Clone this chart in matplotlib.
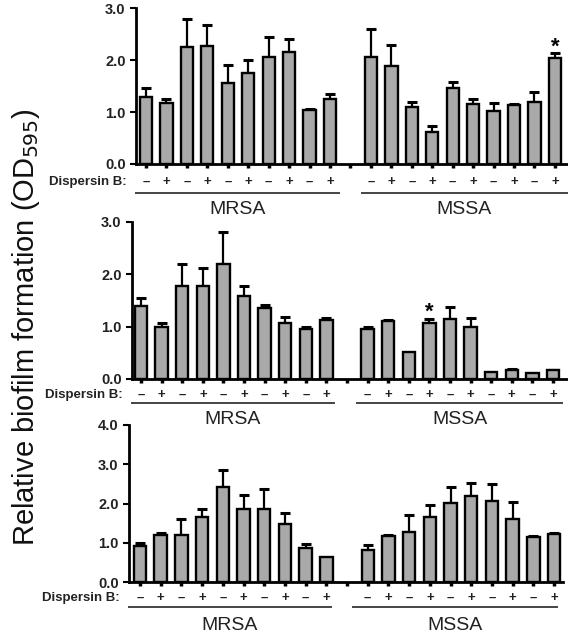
import numpy as np
import matplotlib
matplotlib.use("Agg")
import matplotlib.pyplot as plt
from matplotlib.lines import Line2D
from matplotlib.transforms import ScaledTranslation

plt.rcParams['font.family'] = ['Liberation Sans', 'DejaVu Sans']

# ---- data ----
groups = ["MRSA", "MSSA"]
treatment = ["–", "+", "–", "+", "–", "+", "–", "+", "–", "+"]

p1_mrsa = [1.29, 1.17, 2.25, 2.27, 1.56, 1.75, 2.05, 2.15, 1.04, 1.25]
p1_mrsa_err = [0.17, 0.08, 0.54, 0.40, 0.34, 0.25, 0.39, 0.25, 0.02, 0.10]
p1_mssa = [2.05, 1.88, 1.10, 0.62, 1.46, 1.15, 1.02, 1.13, 1.20, 2.03]
p1_mssa_err = [0.55, 0.40, 0.10, 0.11, 0.12, 0.10, 0.15, 0.02, 0.18, 0.10]
p1_stars = [("MSSA", 9)]

p2_mrsa = [1.40, 0.99, 1.78, 1.78, 2.20, 1.59, 1.35, 1.07, 0.96, 1.13]
p2_mrsa_err = [0.15, 0.08, 0.42, 0.34, 0.60, 0.19, 0.07, 0.12, 0.03, 0.04]
p2_mssa = [0.96, 1.11, 0.52, 1.07, 1.15, 1.00, 0.13, 0.17, 0.11, 0.17]
p2_mssa_err = [0.04, 0.02, 0.0, 0.08, 0.23, 0.17, 0.0, 0.03, 0.0, 0.01]
p2_stars = [("MSSA", 3)]

p3_mrsa = [0.92, 1.20, 1.20, 1.65, 2.42, 1.86, 1.85, 1.48, 0.87, 0.64]
p3_mrsa_err = [0.08, 0.04, 0.40, 0.21, 0.43, 0.36, 0.51, 0.28, 0.10, 0.0]
p3_mssa = [0.82, 1.17, 1.28, 1.66, 2.02, 2.20, 2.06, 1.60, 1.14, 1.23]
p3_mssa_err = [0.13, 0.03, 0.42, 0.30, 0.40, 0.32, 0.44, 0.44, 0.02, 0.03]
p3_stars = []

W, H = 568, 634
fig = plt.figure(figsize=(W / 100, H / 100), dpi=100)

BAR_COLOR = "#a9a9a9"


def px_rect(x0, x1, ytop, ybot):
    return [x0 / W, 1 - ybot / H, (x1 - x0) / W, (ybot - ytop) / H]


def panel(rect, xlim, ymax, yticks, mrsa, mrsa_err, mssa, mssa_err, stars,
          offs, mrsa_line, mssa_line):
    ax = fig.add_axes(rect)
    x_mrsa = np.arange(10)
    x_mssa = np.arange(11, 21)
    xs = np.concatenate([x_mrsa, x_mssa])
    vals = np.array(mrsa + mssa)
    errs = np.array(mrsa_err + mssa_err)
    ax.bar(xs, vals, width=0.6, color=BAR_COLOR, edgecolor="black",
           linewidth=1.7, zorder=2)
    m = errs > 0
    ax.errorbar(xs[m], vals[m], yerr=[np.zeros(m.sum()), errs[m]], fmt="none",
                ecolor="black", elinewidth=1.6, capsize=3.5, capthick=2.2,
                zorder=1)
    for g, i in stars:
        k = i if g == "MRSA" else 10 + i
        ax.annotate("*", xy=(xs[k], vals[k] + errs[k]), xytext=(0, -3),
                    textcoords="offset points", ha="center", va="bottom",
                    fontsize=16, fontweight="bold")
    ax.set_xlim(*xlim)
    ax.set_ylim(0, ymax)
    ax.set_yticks(yticks)
    ax.set_yticklabels([f"{t:.1f}" for t in yticks], fontsize=10.5,
                       fontweight="bold", color="#222222")
    ax.set_xticks(np.arange(21))
    ax.set_xticklabels([])
    ax.tick_params(axis="x", direction="out", length=3, width=2.5, pad=1)
    ax.tick_params(axis="y", direction="out", length=4.5, width=1.5, pad=3)
    for sp in ["top", "right"]:
        ax.spines[sp].set_visible(False)
    for sp in ["left", "bottom"]:
        ax.spines[sp].set_linewidth(2)
    ax.patch.set_alpha(0)

    sign_off, line_off, lab_off = offs
    xt = ax.get_xaxis_transform()
    for xi, t in zip(x_mrsa, treatment):
        ax.annotate(t, xy=(xi, 0), xycoords=xt,
                    xytext=(0, -sign_off * 0.72), textcoords="offset points",
                    ha="center", va="center", fontsize=9.5, fontweight="bold",
                    color="#222222")
    for xi, t in zip(x_mssa, treatment):
        ax.annotate(t, xy=(xi, 0), xycoords=xt,
                    xytext=(0, -sign_off * 0.72), textcoords="offset points",
                    ha="center", va="center", fontsize=9.5, fontweight="bold",
                    color="#222222")
    ax.annotate("Dispersin B:", xy=(xlim[0], 0), xycoords=xt,
                xytext=(-7, -sign_off * 0.72), textcoords="offset points",
                ha="right", va="center", fontsize=9.5, fontweight="bold",
                color="#222222")
    ltr = xt + ScaledTranslation(0, -line_off / 100, fig.dpi_scale_trans)
    for (a, b), name in zip([mrsa_line, mssa_line], groups):
        ax.add_line(Line2D([a, b], [0, 0], transform=ltr, color="#444444",
                           linewidth=1.4, clip_on=False))
        ax.annotate(name, xy=((a + b) / 2, 0), xycoords=xt,
                    xytext=(0, -lab_off * 0.72), textcoords="offset points",
                    ha="center", va="center", fontsize=14, color="#222222")
    return ax


panel(px_rect(136, 567, 8, 164), (-0.49, 20.59), 3.0, [0, 1, 2, 3],
      p1_mrsa, p1_mrsa_err, p1_mssa, p1_mssa_err, p1_stars,
      (18, 29, 46), (-0.49, 9.45), (10.55, 20.59))
panel(px_rect(132, 567, 222, 379), (-0.44, 20.68), 3.0, [0, 1, 2, 3],
      p2_mrsa, p2_mrsa_err, p2_mssa, p2_mssa_err, p2_stars,
      (16, 24, 41), (-0.44, 9.37), (10.49, 20.44))
panel(px_rect(129, 563, 425, 582), (-0.53, 20.43), 4.0, [0, 1, 2, 3, 4],
      p3_mrsa, p3_mrsa_err, p3_mssa, p3_mssa_err, p3_stars,
      (16, 25, 43), (-0.53, 9.23), (10.29, 20.14))

fig.text(26 / W, 1 - 327 / H, "Relative biofilm formation (OD$_{595}$)",
         rotation=90, ha="center", va="center", fontsize=21, color="#111111")

fig.savefig("out.png", dpi=100)
